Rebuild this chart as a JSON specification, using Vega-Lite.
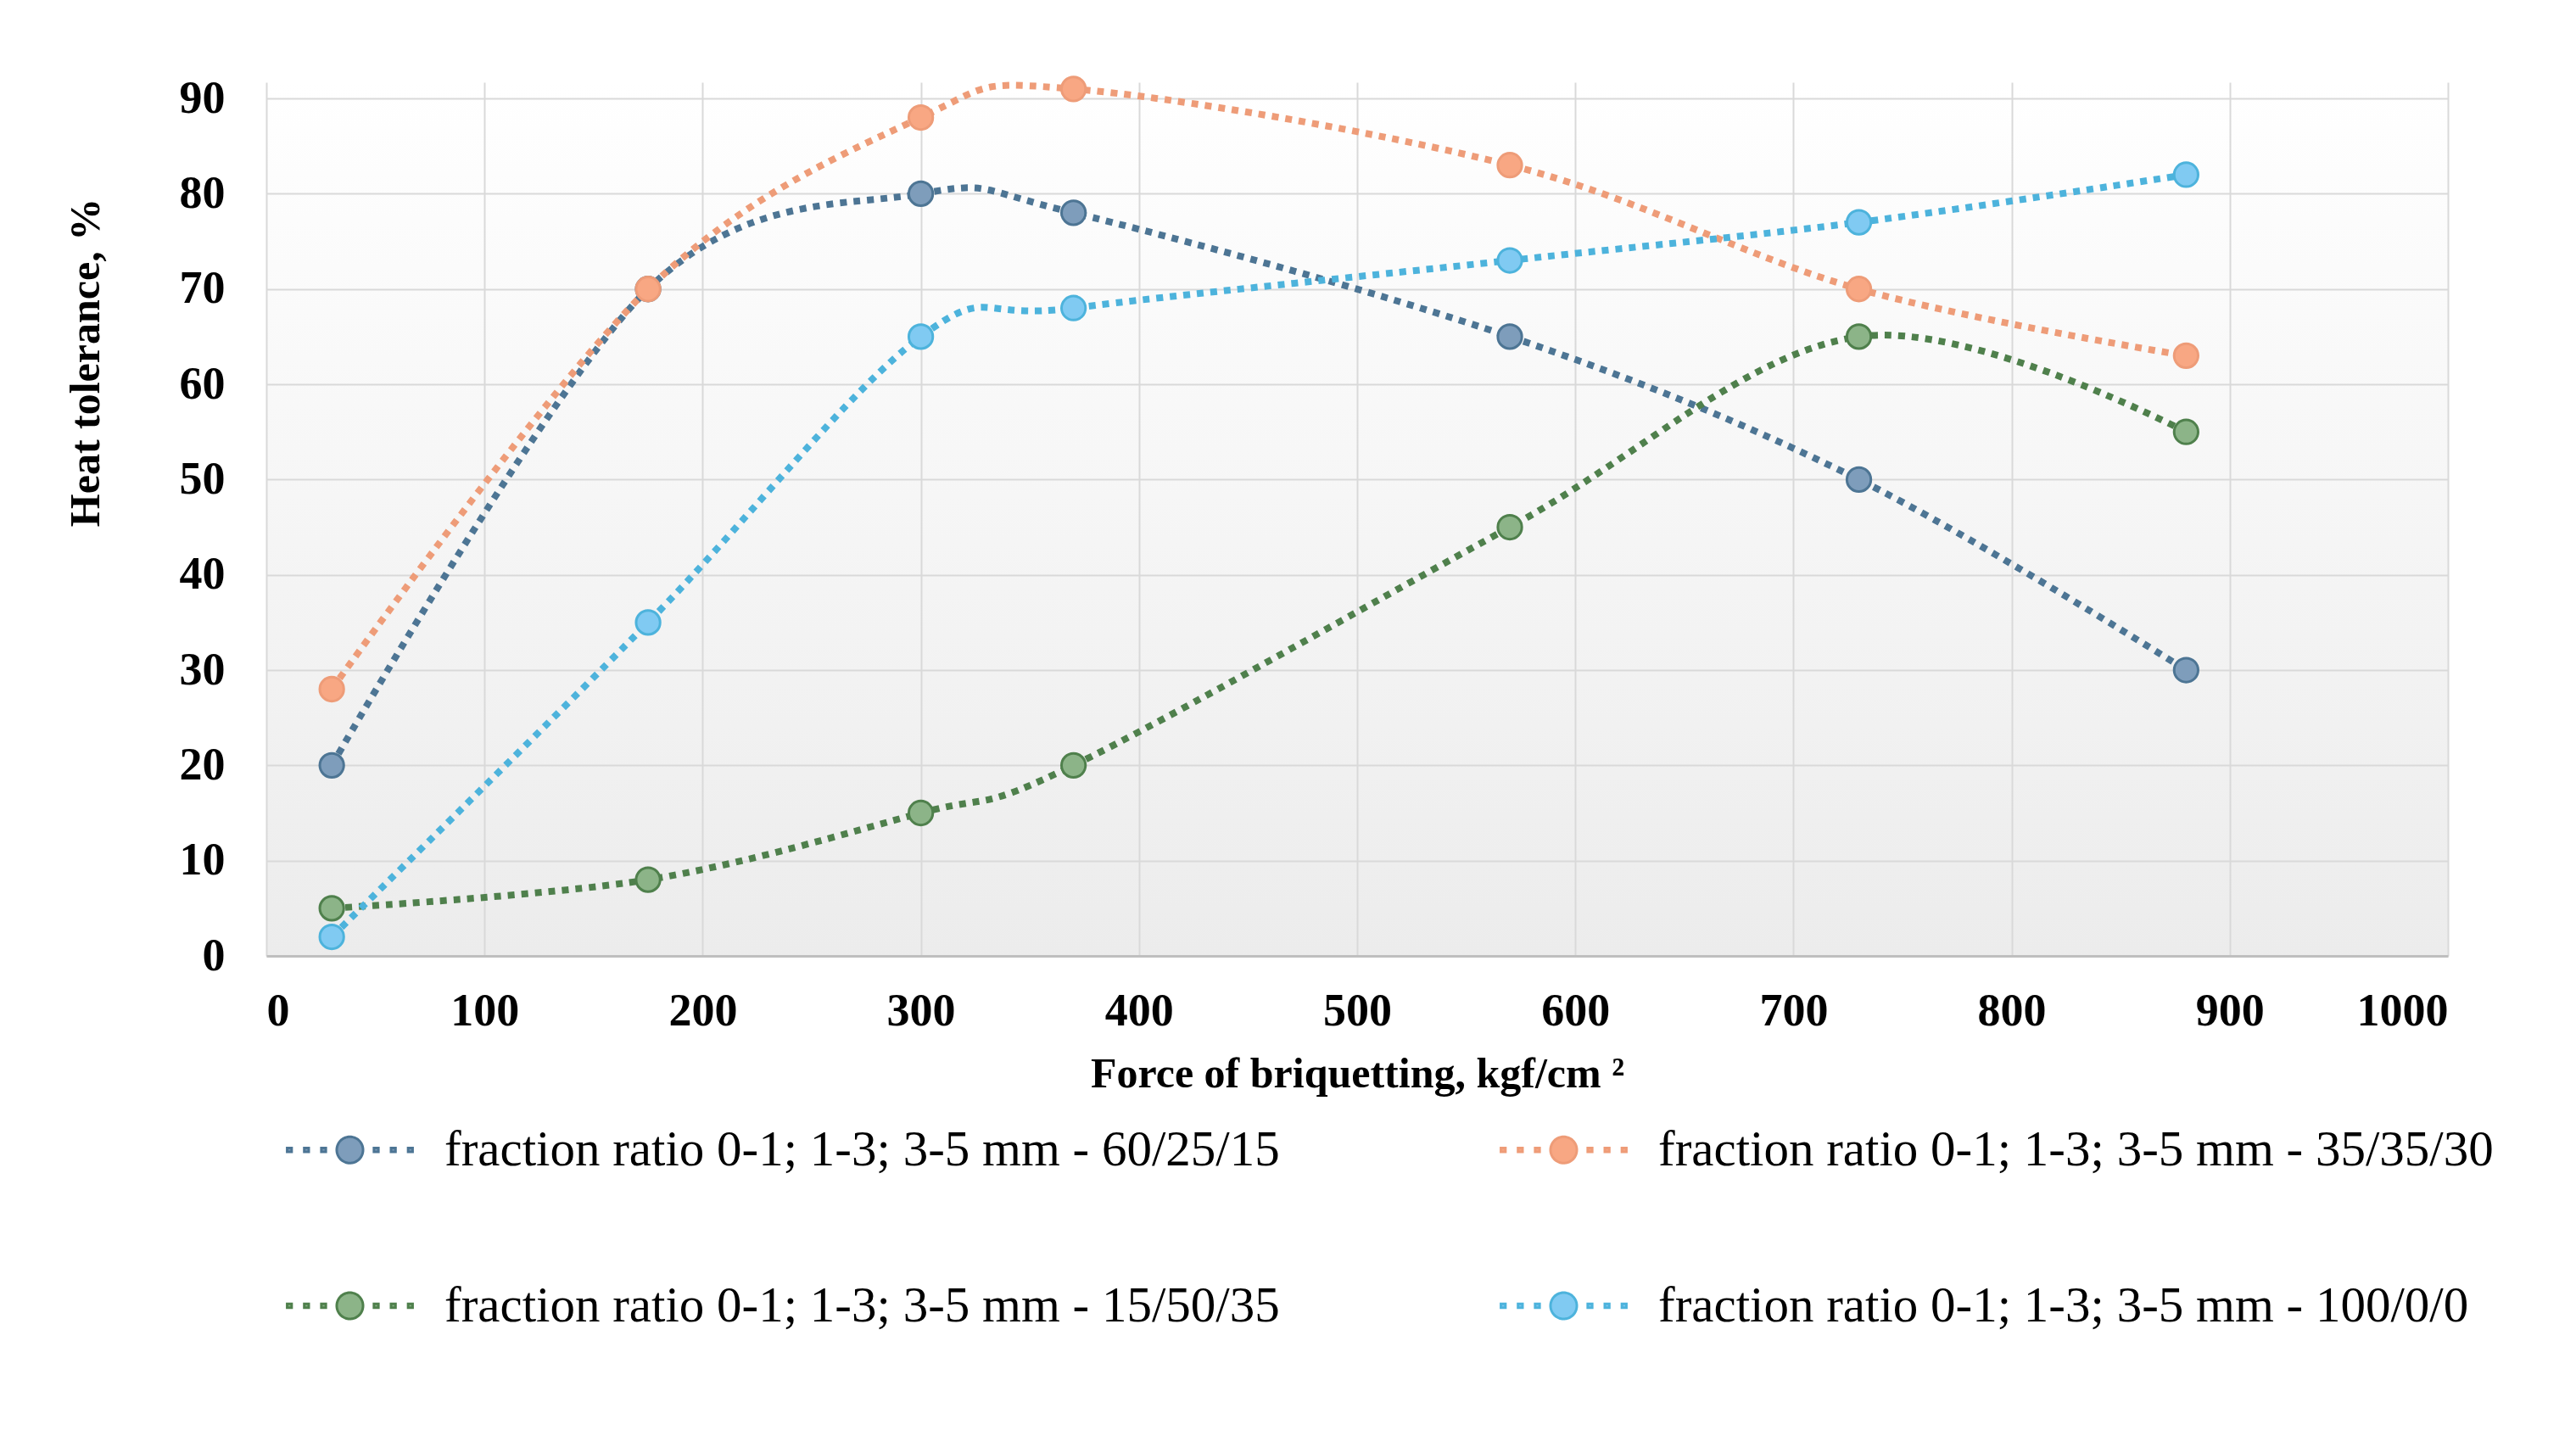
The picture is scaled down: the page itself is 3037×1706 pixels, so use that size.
{
  "$schema": "https://vega.github.io/schema/vega-lite/v6.json",
  "width": 2572,
  "height": 1030,
  "padding": {"left": 76, "top": 84, "right": 20, "bottom": 20},
  "background": "white",
  "config": {
    "font": "Liberation Serif",
    "view": {
      "stroke": null,
      "fill": {
        "gradient": "linear",
        "x1": 0, "y1": 0, "x2": 0, "y2": 1,
        "stops": [
          {"offset": 0, "color": "#ffffff"},
          {"offset": 1, "color": "#ececec"}
        ]
      }
    },
    "axis": {
      "labelFont": "Liberation Serif",
      "labelFontSize": 54,
      "labelFontWeight": "bold",
      "labelColor": "#000000",
      "titleFont": "Liberation Serif",
      "titleFontSize": 50,
      "titleFontWeight": "bold",
      "titleColor": "#000000",
      "ticks": false,
      "tickSize": 0,
      "gridColor": "#d9d9d9",
      "gridWidth": 2
    },
    "legend": {
      "title": null,
      "orient": "none",
      "legendX": 69,
      "legendY": 1229,
      "direction": "horizontal",
      "columns": 2,
      "padding": 0,
      "labelFont": "Liberation Serif",
      "labelFontSize": 59,
      "labelColor": "#000000",
      "labelLimit": 2000,
      "labelOffset": 82,
      "columnPadding": 254,
      "rowPadding": 124,
      "symbolType": "M 1 0 A 1 1 0 1 1 -1 0 A 1 1 0 1 1 1 0 Z M -4.77 -0.15 h 0.34 v 0.3 h -0.34 Z M -3.47 -0.15 h 0.34 v 0.3 h -0.34 Z M -2.17 -0.15 h 0.34 v 0.3 h -0.34 Z M 1.83 -0.15 h 0.34 v 0.3 h -0.34 Z M 3.13 -0.15 h 0.34 v 0.3 h -0.34 Z M 4.43 -0.15 h 0.34 v 0.3 h -0.34 Z",
      "symbolSize": 961,
      "symbolStrokeWidth": 3,
      "symbolDash": [1, 0],
      "symbolOpacity": 1
    }
  },
  "data": {
    "values": [
      {"force": 30, "value": 20, "series": "fraction ratio 0-1; 1-3; 3-5 mm - 60/25/15"},
      {"force": 175, "value": 70, "series": "fraction ratio 0-1; 1-3; 3-5 mm - 60/25/15"},
      {"force": 300, "value": 80, "series": "fraction ratio 0-1; 1-3; 3-5 mm - 60/25/15"},
      {"force": 370, "value": 78, "series": "fraction ratio 0-1; 1-3; 3-5 mm - 60/25/15"},
      {"force": 570, "value": 65, "series": "fraction ratio 0-1; 1-3; 3-5 mm - 60/25/15"},
      {"force": 730, "value": 50, "series": "fraction ratio 0-1; 1-3; 3-5 mm - 60/25/15"},
      {"force": 880, "value": 30, "series": "fraction ratio 0-1; 1-3; 3-5 mm - 60/25/15"},
      {"force": 30, "value": 28, "series": "fraction ratio 0-1; 1-3; 3-5 mm - 35/35/30"},
      {"force": 175, "value": 70, "series": "fraction ratio 0-1; 1-3; 3-5 mm - 35/35/30"},
      {"force": 300, "value": 88, "series": "fraction ratio 0-1; 1-3; 3-5 mm - 35/35/30"},
      {"force": 370, "value": 91, "series": "fraction ratio 0-1; 1-3; 3-5 mm - 35/35/30"},
      {"force": 570, "value": 83, "series": "fraction ratio 0-1; 1-3; 3-5 mm - 35/35/30"},
      {"force": 730, "value": 70, "series": "fraction ratio 0-1; 1-3; 3-5 mm - 35/35/30"},
      {"force": 880, "value": 63, "series": "fraction ratio 0-1; 1-3; 3-5 mm - 35/35/30"},
      {"force": 30, "value": 5, "series": "fraction ratio 0-1; 1-3; 3-5 mm - 15/50/35"},
      {"force": 175, "value": 8, "series": "fraction ratio 0-1; 1-3; 3-5 mm - 15/50/35"},
      {"force": 300, "value": 15, "series": "fraction ratio 0-1; 1-3; 3-5 mm - 15/50/35"},
      {"force": 370, "value": 20, "series": "fraction ratio 0-1; 1-3; 3-5 mm - 15/50/35"},
      {"force": 570, "value": 45, "series": "fraction ratio 0-1; 1-3; 3-5 mm - 15/50/35"},
      {"force": 730, "value": 65, "series": "fraction ratio 0-1; 1-3; 3-5 mm - 15/50/35"},
      {"force": 880, "value": 55, "series": "fraction ratio 0-1; 1-3; 3-5 mm - 15/50/35"},
      {"force": 30, "value": 2, "series": "fraction ratio 0-1; 1-3; 3-5 mm - 100/0/0"},
      {"force": 175, "value": 35, "series": "fraction ratio 0-1; 1-3; 3-5 mm - 100/0/0"},
      {"force": 300, "value": 65, "series": "fraction ratio 0-1; 1-3; 3-5 mm - 100/0/0"},
      {"force": 370, "value": 68, "series": "fraction ratio 0-1; 1-3; 3-5 mm - 100/0/0"},
      {"force": 570, "value": 73, "series": "fraction ratio 0-1; 1-3; 3-5 mm - 100/0/0"},
      {"force": 730, "value": 77, "series": "fraction ratio 0-1; 1-3; 3-5 mm - 100/0/0"},
      {"force": 880, "value": 82, "series": "fraction ratio 0-1; 1-3; 3-5 mm - 100/0/0"}
    ]
  },
  "encoding": {
    "x": {
      "field": "force",
      "type": "quantitative",
      "scale": {"domain": [0, 1000], "nice": false},
      "axis": {
        "title": "Force of briquetting, kgf/cm ²",
        "values": [0, 100, 200, 300, 400, 500, 600, 700, 800, 900, 1000],
        "format": "d",
        "domainColor": "#bfbfbf",
        "domainWidth": 3,
        "labelPadding": 38,
        "titlePadding": 22
      }
    },
    "y": {
      "field": "value",
      "type": "quantitative",
      "scale": {"domain": [0, 91.7], "nice": false},
      "axis": {
        "title": "Heat tolerance, %",
        "values": [0, 10, 20, 30, 40, 50, 60, 70, 80, 90],
        "domain": false,
        "labelPadding": 49,
        "titlePadding": 85,
        "titleY": 330
      }
    }
  },
  "layer": [
    {
      "mark": {
        "type": "line",
        "interpolate": "cardinal",
        "tension": 0,
        "strokeDash": [8, 8],
        "strokeWidth": 8,
        "strokeCap": "butt"
      },
      "encoding": {
        "stroke": {
          "field": "series",
          "type": "nominal",
          "scale": {
            "domain": [
              "fraction ratio 0-1; 1-3; 3-5 mm - 60/25/15",
              "fraction ratio 0-1; 1-3; 3-5 mm - 35/35/30",
              "fraction ratio 0-1; 1-3; 3-5 mm - 15/50/35",
              "fraction ratio 0-1; 1-3; 3-5 mm - 100/0/0"
            ],
            "range": ["#4d7594", "#ee9c78", "#4f804c", "#4db3dc"]
          }
        }
      }
    },
    {
      "mark": {"type": "point", "filled": true, "size": 800, "strokeWidth": 3, "opacity": 1},
      "encoding": {
        "fill": {
          "field": "series",
          "type": "nominal",
          "scale": {
            "domain": [
              "fraction ratio 0-1; 1-3; 3-5 mm - 60/25/15",
              "fraction ratio 0-1; 1-3; 3-5 mm - 35/35/30",
              "fraction ratio 0-1; 1-3; 3-5 mm - 15/50/35",
              "fraction ratio 0-1; 1-3; 3-5 mm - 100/0/0"
            ],
            "range": ["#7e9dbb", "#f8a783", "#8cb488", "#80caf2"]
          }
        },
        "stroke": {"field": "series", "type": "nominal"}
      }
    }
  ]
}
